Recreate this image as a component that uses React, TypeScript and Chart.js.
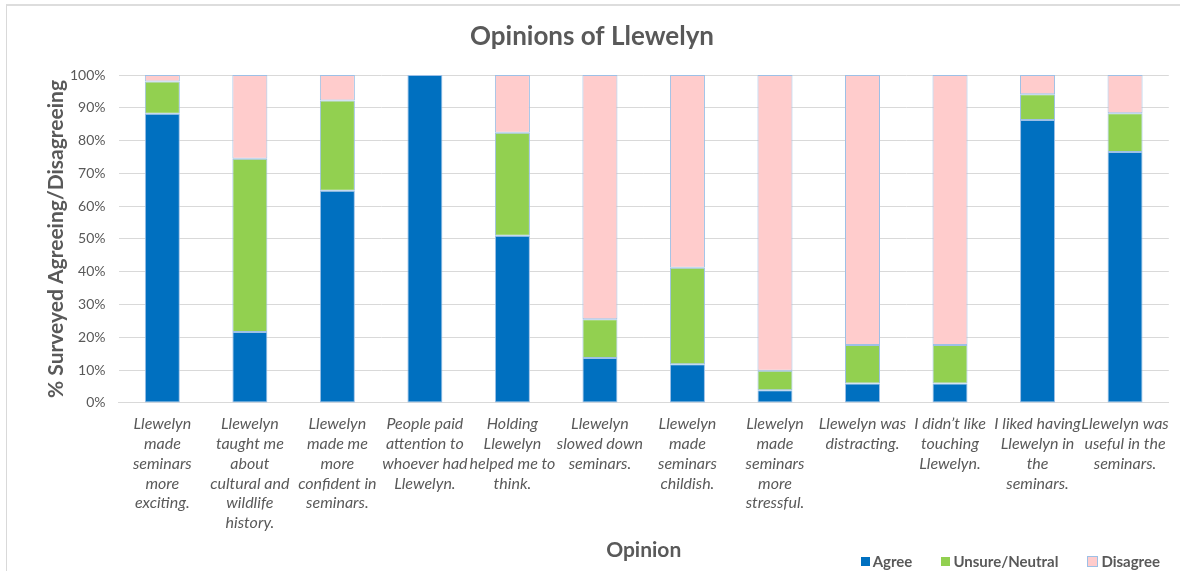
import React, { useEffect, useRef } from 'react';
import { Chart, registerables } from 'chart.js';

Chart.register(...registerables);

const categories: string[][] = [
  ['Llewelyn', 'made', 'seminars', 'more', 'exciting.'],
  ['Llewelyn', 'taught me', 'about', 'cultural and', 'wildlife', 'history.'],
  ['Llewelyn', 'made me', 'more', 'confident in', 'seminars.'],
  ['People paid', 'attention to', 'whoever had', 'Llewelyn.'],
  ['Holding', 'Llewelyn', 'helped me to', 'think.'],
  ['Llewelyn', 'slowed down', 'seminars.'],
  ['Llewelyn', 'made', 'seminars', 'childish.'],
  ['Llewelyn', 'made', 'seminars', 'more', 'stressful.'],
  ['Llewelyn was', 'distracting.'],
  ['I didn\u2019t like', 'touching', 'Llewelyn.'],
  ['I liked having', 'Llewelyn in', 'the', 'seminars.'],
  ['Llewelyn was', 'useful in the', 'seminars.'],
];

const agree = [88.2, 21.6, 64.7, 100, 51.0, 13.7, 11.8, 3.9, 5.9, 5.9, 86.3, 76.5];
const unsure = [9.8, 52.9, 27.5, 0, 31.4, 11.8, 29.4, 5.9, 11.8, 11.8, 7.8, 11.8];
const disagree = [2.0, 25.5, 7.8, 0, 17.6, 74.5, 58.8, 90.2, 82.3, 82.3, 5.9, 11.7];

const seriesNames = ['Agree', 'Unsure/Neutral', 'Disagree'];
const seriesColors = ['#0070C0', '#92D050', '#FFCCCC'];
const yTickValues = [0, 10, 20, 30, 40, 50, 60, 70, 80, 90, 100];

const TEXT = '#595959';
const FONT = 'Lato, "Open Sans", sans-serif';

export default function App() {
  const canvasRef = useRef<HTMLCanvasElement | null>(null);

  useEffect(() => {
    if (!canvasRef.current) return;
    const seriesData = [agree, unsure, disagree];
    const chart = new Chart(canvasRef.current, {
      type: 'bar',
      data: {
        labels: categories,
        datasets: seriesNames.map((name, i) => ({
          label: name,
          data: seriesData[i],
          backgroundColor: seriesColors[i],
          borderColor: '#9DC0E6',
          borderWidth: 1,
          borderSkipped: false,
          barPercentage: 0.8,
          categoryPercentage: 0.5,
        })),
      },
      options: {
        responsive: false,
        animation: false,
        layout: { padding: { left: 10, right: 6, top: 0, bottom: 0 } },
        plugins: {
          legend: { display: false },
          tooltip: { enabled: false },
          title: {
            display: true,
            text: 'Opinions of Llewelyn',
            color: TEXT,
            font: { family: FONT, size: 26, weight: 'bold', lineHeight: 1.2 },
            padding: { top: 21.4, bottom: 22.4 },
          },
        },
        scales: {
          x: {
            stacked: true,
            grid: { display: false, drawTicks: false },
            border: { display: true, color: '#D9D9D9' },
            ticks: {
              color: TEXT,
              font: { family: FONT, size: 16, style: 'italic', lineHeight: 1.24 },
              padding: 11,
              maxRotation: 0,
              autoSkip: false,
            },
            title: {
              display: true,
              text: 'Opinion',
              color: TEXT,
              font: { family: FONT, size: 21, weight: 'bold', lineHeight: 1.2 },
              padding: { top: -6.6, bottom: 8.4 },
            },
          },
          y: {
            stacked: true,
            min: 0,
            max: 100,
            afterBuildTicks: (axis: any) => {
              axis.ticks = yTickValues.map((v) => ({ value: v }));
            },
            ticks: {
              color: TEXT,
              font: { family: FONT, size: 14 },
              padding: 13,
              callback: (v: any) => v + '%',
            },
            grid: { color: '#D9D9D9', drawTicks: false },
            border: { display: false },
            title: {
              display: true,
              text: '% Surveyed Agreeing/Disagreeing',
              color: TEXT,
              font: { family: FONT, size: 21, weight: 'bold', lineHeight: 1.2 },
              padding: { top: 33.4, bottom: -11.6 },
            },
          },
        },
      },
    } as any);
    return () => chart.destroy();
  }, []);

  return (
    <div style={{ position: 'fixed', left: 0, top: 0, width: 1180, height: 571, background: '#fff', overflow: 'hidden' }}>
      <div
        style={{
          position: 'absolute',
          left: 6,
          top: 4,
          width: 1200,
          height: 600,
          borderLeft: '1px solid #D9D9D9',
          borderTop: '2px solid #DDDDDD',
          pointerEvents: 'none',
        }}
      />
      <canvas ref={canvasRef} width={1180} height={571} style={{ position: 'absolute', left: 0, top: 0 }} />
      <div
        style={{
          position: 'absolute',
          right: 20,
          top: 552,
          display: 'flex',
          alignItems: 'center',
          fontFamily: FONT,
          fontSize: 15,
          fontWeight: 'bold',
          lineHeight: '19px',
          color: TEXT,
        }}
      >
        {seriesNames.map((name, i) => (
          <div key={name} style={{ display: 'flex', alignItems: 'center', marginLeft: i === 0 ? 0 : 29 }}>
            <span
              style={{
                display: 'inline-block',
                width: 9,
                height: 9,
                background: seriesColors[i],
                border: i === 2 ? '1px solid #9DC0E6' : 'none',
                marginRight: 3,
              }}
            />
            <span>{name}</span>
          </div>
        ))}
      </div>
    </div>
  );
}
